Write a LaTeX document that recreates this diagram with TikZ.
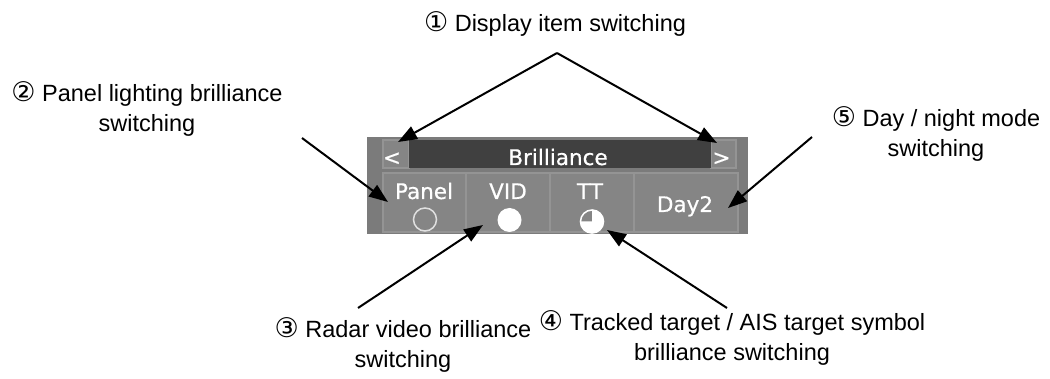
\documentclass[tikz,border=0pt]{standalone}
\usepackage{fontspec}
\setmainfont{Liberation Sans}
\newfontfamily\panelfont[FakeBold=0.6]{DejaVu Sans}
\newfontfamily\cnumfont{DejaVu Sans}
\usetikzlibrary{arrows.meta}
\newcommand\cnum[1]{{\cnumfont\fontsize{27}{30}\selectfont #1}}
\definecolor{panelgrey}{RGB}{123,123,123}
\definecolor{keygrey}{RGB}{133,133,133}
\definecolor{keyedge}{RGB}{148,148,148}
\definecolor{bardark}{RGB}{64,64,64}
\tikzset{
  callout/.style={font=\fontsize{23.5}{30}\selectfont, align=center, anchor=base, inner sep=0pt},
  pointer/.style={line width=2pt, -{Triangle[length=19pt,width=14pt]}},
  keybox/.style={fill=keygrey, draw=keyedge, line width=1.5pt},
  keytext/.style={text=white, font=\panelfont\fontsize{21.5}{21.5}\selectfont, anchor=base, inner sep=0pt},
}
\begin{document}
\begin{tikzpicture}[x=1pt, y=-1pt, line join=miter]
  \useasboundingbox (0,0) rectangle (1050,379);
  % panel
  \fill[panelgrey] (367,137) rectangle (748,234);
  \draw[keybox] (383,140) rectangle (409,168);
  \draw[keybox] (711,140) rectangle (736,168);
  \fill[bardark] (409,140) rectangle (711,168);
  \draw[keybox] (383,173) rectangle (466,232);
  \draw[keybox] (466,173) rectangle (550,232);
  \draw[keybox] (550,173) rectangle (634,232);
  \draw[keybox] (634,173) rectangle (738,232);
  \node[keytext] (prev) at (392,165) {<};
  \node[keytext] (next) at (721.5,165) {>};
  \node[keytext] (title) at (558,165) {Brilliance};
  \node[keytext] (panel) at (424,199) {Panel};
  \node[keytext] (vid) at (508,199) {VID};
  \node[keytext] (tt) at (590,199) {TT};
  \node[keytext] (day) at (685,212) {Day2};
  \draw[white!88!black, line width=1.5pt] (425,219.5) circle (11.5);
  \fill[white] (509.5,220) circle (12);
  \coordinate (ttc) at (592,221.5);
  \draw[white, line width=1.5pt] (ttc) circle (11.5);
  \fill[white] (ttc) -- ++(-90:12) arc[start angle=-90, end angle=180, radius=12] -- cycle;
  % callouts
  \node[callout] (lab1) at (555,32) {\cnum{①} Display item switching};
  \node[callout] (lab2) at (147,132) {\cnum{②} Panel lighting brilliance\\switching};
  \node[callout] (lab3) at (403,367) {\cnum{③} Radar video brilliance\\switching};
  \node[callout] (lab4) at (732,360) {\cnum{④} Tracked target / AIS target symbol\\brilliance switching};
  \node[callout] (lab5) at (936,157) {\cnum{⑤} Day / night mode\\switching};
  \coordinate (apex) at (557,53);
  \coordinate (tipprev) at (398,142);
  \coordinate (tipnext) at (717,143);
  \coordinate (from2) at (302,138);
  \coordinate (tip2) at (388,202);
  \coordinate (from3) at (358,308);
  \coordinate (tip3) at (483,225);
  \coordinate (from4) at (727,308);
  \coordinate (tip4) at (607,230);
  \coordinate (from5) at (812,137);
  \coordinate (tip5) at (728,208);
  \draw[pointer] (apex) -- (tipprev);
  \draw[pointer] (apex) -- (tipnext);
  \draw[pointer] (from2) -- (tip2);
  \draw[pointer] (from3) -- (tip3);
  \draw[pointer] (from4) -- (tip4);
  \draw[pointer] (from5) -- (tip5);
\end{tikzpicture}
\end{document}
